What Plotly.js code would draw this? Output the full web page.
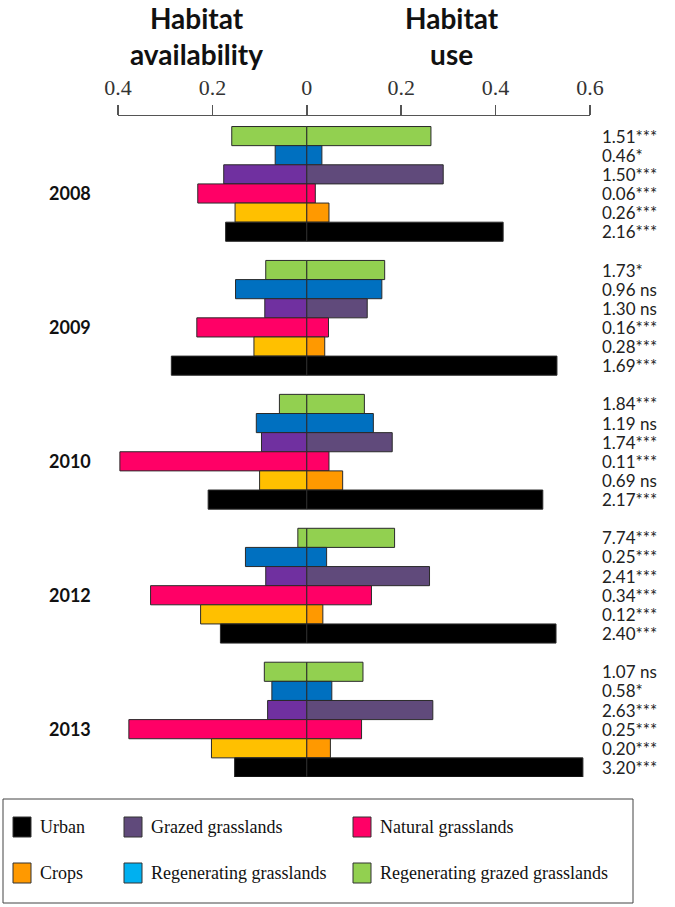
<!DOCTYPE html>
<html>
<head>
<meta charset="utf-8">
<script src="https://cdn.plot.ly/plotly-3.0.1.min.js"></script>
<style>
  html, body { margin: 0; padding: 0; background: #fff; }
  #chart { width: 675px; height: 907px; }
</style>
</head>
<body>
<div id="chart"></div>
<script>
// ── Data ─────────────────────────────────────────────────────────────────
const years = ['2008', '2009', '2010', '2012', '2013'];

// habitats, top to bottom inside each year group
const habitats = ['Regenerating grazed grasslands', 'Regenerating grasslands',
  'Grazed grasslands', 'Natural grasslands', 'Crops', 'Urban'];

// habitat availability (left side), one value per year
const availRegenGrazed = [0.159, 0.087, 0.058, 0.019, 0.090];
const availRegen       = [0.067, 0.151, 0.107, 0.130, 0.074];
const availGrazed      = [0.176, 0.089, 0.096, 0.087, 0.083];
const availNatural     = [0.231, 0.233, 0.396, 0.331, 0.377];
const availCrops       = [0.152, 0.112, 0.100, 0.225, 0.202];
const availUrban       = [0.172, 0.287, 0.209, 0.183, 0.153];

// habitat use (right side)
const useRegenGrazed = [0.263, 0.165, 0.122, 0.186, 0.119];
const useRegen       = [0.032, 0.159, 0.141, 0.042, 0.053];
const useGrazed      = [0.289, 0.128, 0.181, 0.260, 0.267];
const useNatural     = [0.018, 0.046, 0.047, 0.137, 0.116];
const useCrops       = [0.047, 0.038, 0.076, 0.034, 0.050];
const useUrban       = [0.416, 0.530, 0.500, 0.528, 0.585];

// selection ratios shown at the right, per year, top to bottom
const ratios2008 = ['1.51***', '0.46*', '1.50***', '0.06***', '0.26***', '2.16***'];
const ratios2009 = ['1.73*', '0.96 ns', '1.30 ns', '0.16***', '0.28***', '1.69***'];
const ratios2010 = ['1.84***', '1.19 ns', '1.74***', '0.11***', '0.69 ns', '2.17***'];
const ratios2012 = ['7.74***', '0.25***', '2.41***', '0.34***', '0.12***', '2.40***'];
const ratios2013 = ['1.07 ns', '0.58*', '2.63***', '0.25***', '0.20***', '3.20***'];

const tickVals = [-0.4, -0.2, 0, 0.2, 0.4, 0.6];
const tickText = ['0.4', '0.2', '0', '0.2', '0.4', '0.6'];

const legendNames = ['Urban', 'Grazed grasslands', 'Natural grasslands',
  'Crops', 'Regenerating grasslands', 'Regenerating grazed grasslands'];
const legendColors = ['#000000', '#604A7B', '#FF0066', '#FF9900', '#00B0F0', '#92D050'];

// ── Styling ───────────────────────────────────────────────────────────────
const availColors = ['#92D050', '#0070C0', '#7030A0', '#FF0066', '#FFC000', '#000000'];
const useColors   = ['#92D050', '#0070C0', '#604A7B', '#FF0066', '#FF9900', '#000000'];

const availAll = [availRegenGrazed, availRegen, availGrazed, availNatural, availCrops, availUrban];
const useAll   = [useRegenGrazed, useRegen, useGrazed, useNatural, useCrops, useUrban];
const ratiosAll = [ratios2008, ratios2009, ratios2010, ratios2012, ratios2013];

const W = 675, H = 907;
const M = { l: 118, r: 85, t: 116, b: 130 };
const PW = W - M.l - M.r, PH = H - M.t - M.b;
const px = x => (x - M.l) / PW;          // pixel -> paper x
const py = y => (H - M.b - y) / PH;      // pixel -> paper y
const GROUP = 7;                          // 6 bars + 1 empty slot per year
const slot = (g, k) => g * GROUP + k;

// ── Traces ────────────────────────────────────────────────────────────────
const traces = [];
habitats.forEach((name, k) => {
  const ys = years.map((_, g) => slot(g, k));
  traces.push({
    type: 'bar', orientation: 'h', name: name + ' (availability)',
    x: availAll[k].map(v => -v), y: ys, width: 1,
    marker: { color: availColors[k], line: { color: '#2a2a2a', width: 1 } },
    hoverinfo: 'skip', showlegend: false,
  });
  traces.push({
    type: 'bar', orientation: 'h', name: name + ' (use)',
    x: useAll[k], y: ys, width: 1,
    marker: { color: useColors[k], line: { color: '#2a2a2a', width: 1 } },
    hoverinfo: 'skip', showlegend: false,
  });
});

// ── Annotations ───────────────────────────────────────────────────────────
const annotations = [];
const titleFont = { family: 'Lato, sans-serif', size: 28, color: '#111' };
annotations.push({
  xref: 'paper', yref: 'paper', x: px(196), y: py(36),
  xanchor: 'center', yanchor: 'middle', showarrow: false,
  text: '<b>Habitat<br>availability</b>', font: titleFont,
});
annotations.push({
  xref: 'paper', yref: 'paper', x: px(452), y: py(36),
  xanchor: 'center', yanchor: 'middle', showarrow: false,
  text: '<b>Habitat<br>use</b>', font: titleFont,
});

years.forEach((yr, g) => {
  annotations.push({
    xref: 'paper', yref: 'y', x: px(70), y: slot(g, 3),
    xanchor: 'center', yanchor: 'middle', showarrow: false,
    text: '<b>' + yr + '</b>',
    font: { family: 'Lato, sans-serif', size: 18, color: '#111' },
  });
  ratiosAll[g].forEach((t, k) => {
    annotations.push({
      xref: 'paper', yref: 'y', x: px(600), y: slot(g, k),
      xanchor: 'left', yanchor: 'middle', showarrow: false,
      text: t, font: { family: 'Lato, sans-serif', size: 17, color: '#222' },
    });
  });
});

// ── Legend box (drawn by hand) ─────────────────────────────────────────────
const shapes = [{
  type: 'rect', xref: 'paper', yref: 'paper',
  x0: px(3), x1: px(633), y0: py(903), y1: py(799),
  line: { color: '#444', width: 1 }, fillcolor: 'rgba(0,0,0,0)',
}];
const legCols = [13, 124, 353];
const legRows = [827, 873];
legendNames.forEach((name, i) => {
  const cx = legCols[i % 3], cy = legRows[Math.floor(i / 3)];
  shapes.push({
    type: 'rect', xref: 'paper', yref: 'paper',
    x0: px(cx), x1: px(cx + 18), y0: py(cy + 10), y1: py(cy - 10),
    fillcolor: legendColors[i], line: { color: '#333', width: 1 },
  });
  annotations.push({
    xref: 'paper', yref: 'paper', x: px(cx + 25), y: py(cy),
    xanchor: 'left', yanchor: 'middle', showarrow: false,
    text: name, font: { family: 'Liberation Serif, serif', size: 18, color: '#111' },
  });
});

// ── Layout ────────────────────────────────────────────────────────────────
const layout = {
  width: W, height: H,
  margin: M,
  paper_bgcolor: '#fff', plot_bgcolor: '#fff',
  barmode: 'overlay', showlegend: false,
  xaxis: {
    side: 'top', range: [-0.4, 0.6],
    tickvals: tickVals, ticktext: tickText,
    ticks: 'outside', ticklen: 10, tickwidth: 1.5, tickcolor: '#555',
    showline: true, linecolor: '#555', linewidth: 1.5,
    showgrid: false, zeroline: false, fixedrange: true,
    ticklabelstandoff: 1,
    tickfont: { family: 'Liberation Serif, serif', size: 22, color: '#333' },
  },
  yaxis: {
    range: [slot(4, 5) + 0.5, -1.05],
    visible: false, showgrid: false, zeroline: false, fixedrange: true,
  },
  shapes, annotations,
};

Plotly.newPlot('chart', traces, layout, { displayModeBar: false, staticPlot: true });
</script>
</body>
</html>
